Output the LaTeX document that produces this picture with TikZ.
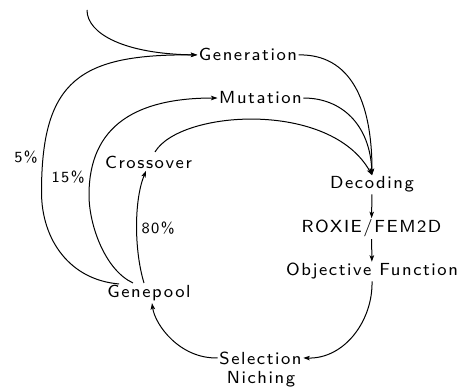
\documentclass[tikz,border=0pt]{standalone}
\usepackage{fontspec}
\newfontfamily\lms[LetterSpace=9]{lmsans8-regular.otf}
\usetikzlibrary{arrows.meta,calc}
\begin{document}
\begin{tikzpicture}[x=1pt,y=-1pt,
  lbl/.style={font=\lms\fontsize{17.5}{20}\selectfont, inner sep=1.5pt, anchor=base},
  pct/.style={font=\lms\fontsize{15.5}{18}\selectfont, inner sep=0pt},
  conn/.style={line width=1pt, -{Stealth[length=6.5pt,width=4.5pt,inset=1.5pt]}}]
\useasboundingbox (0,0) rectangle (466,387);
\node[lbl] (gen) at (248,61) {Generation};
\node[lbl] (mut) at (260.5,104) {Mutation};
\node[lbl] (cro) at (148.5,169) {Crossover};
\node[lbl] (dec) at (372,189) {Decoding};
\node[lbl] (rox) at (371.5,233) {ROXIE/FEM2D};
\node[lbl] (obj) at (372,276) {Objective Function};
\node[lbl] (gene) at (149,298) {Genepool};
\node[lbl] (sel) at (260.5,364) {Selection};
\node[lbl] (nic) at (261,384) {Niching};
\node[pct] (p5) at (26,157) {5\%};
\node[pct] (p15) at (68,177) {15\%};
\node[pct] (p80) at (158,228) {80\%};
\coordinate (start) at (87,10);

\draw[conn] (start) .. controls (87,34) and (125,54) .. (gen.west);
\draw[conn] ($(gene.north west)+(13.5,0)$) .. controls (70,280) and (41.5,240) .. (41.5,192)
   .. controls (41.5,80) and (80,54) .. (gen.west);
\draw[conn] ($(gene.north)+(-16,-1)$) .. controls (105,270) and (89,225) .. (89,195)
   .. controls (89,125) and (137,98) .. (mut.west);
\draw[conn] ($(gene.north)+(-5,-1)$) .. controls (134,250) and (134,200) .. ($(cro.south)+(-2.5,0)$);
\draw[conn] ($(cro.north)+(6.5,-3)$) .. controls (180,110) and (330,100) .. (dec.north);
\draw[conn] (gen.east) .. controls (350,54) and (372,100) .. (dec.north);
\draw[conn] (mut.east) .. controls (342,98) and (370,125) .. (dec.north);
\draw[conn] (dec) -- (rox);
\draw[conn] (rox) -- (obj);
\draw[conn] (obj.south) .. controls (373,320) and (345,359) .. (sel.east);
\draw[conn] (sel.west) .. controls (180,359) and (155,325) .. ($(gene.south)+(3,0)$);
\end{tikzpicture}
\end{document}
